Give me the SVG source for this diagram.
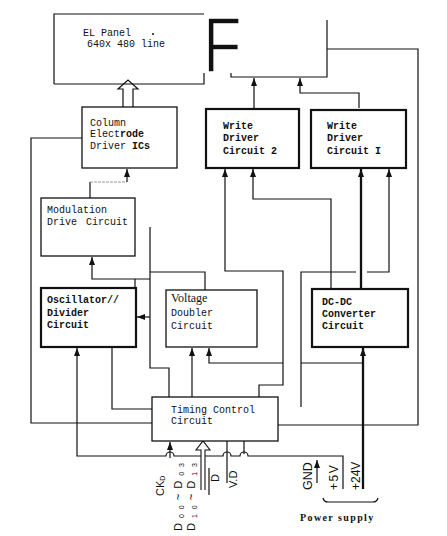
<svg xmlns="http://www.w3.org/2000/svg" width="447" height="536" viewBox="0 0 447 536">
<defs>
<marker id="ah" viewBox="0 0 8 6" refX="8" refY="3" markerWidth="8" markerHeight="6" markerUnits="userSpaceOnUse" orient="auto"><path d="M0,0 L8,3 L0,6 z" fill="#111"/></marker>
</defs>
<style>
.box{fill:#fff;stroke:#111;stroke-width:1.3}
.bbox{fill:#fff;stroke:#111;stroke-width:2.2}
.mono{font-family:"Liberation Mono","DejaVu Sans Mono",monospace;font-size:10px;fill:#111}
.b{font-weight:bold}
.sans{font-family:"Liberation Sans",Arial,sans-serif;fill:#111}
.serif{font-family:"Liberation Serif","Times New Roman",serif;fill:#111}
.ln{fill:none;stroke:#111;stroke-width:1.2}
.th{fill:none;stroke:#111;stroke-width:2.3}
.ar{marker-end:url(#ah)}
</style>
<rect width="447" height="536" fill="#fff"/>

<g id="connectors">
  <path d="M123,108 V89 H118 L128,80 L138,89 H133 V108" fill="#fff" stroke="#111" stroke-width="1.2"/>
  <path class="ln ar" d="M254,108 V78"/>
  <path class="ln ar" d="M359,108 V93 H300 V78"/>
  <path class="ln" d="M231,73 V77 H327 V20"/>
  <path class="ln" d="M327,49 H418 V425 H278"/>
  <path class="ln" d="M82,138 H31 V423 H152"/>
  <path class="ln" d="M90,198 V182"/>
  <path d="M90,182 H127" fill="none" stroke="#999" stroke-width="1" stroke-dasharray="3,1"/>
  <path class="ln ar" d="M127,182 V169"/>
  <path class="ln ar" d="M150,279 H92 V257"/>
  <path class="ln" d="M135,279 V288"/>
  <path class="ln" d="M150,227 V368 H169 V397"/>
  <path class="ln ar" d="M150,317 H137"/>
  <path class="ln" d="M150,272 H205 V290"/>
  <path class="ln" d="M112,347 V409 H152"/>
  <path class="ln ar" d="M343,489 V456 H248 A4,4 0 0 0 240,456 H231 A4,4 0 0 0 223,456 H174 A4,4 0 0 0 166,456 H77 V348"/>
  <path class="ln ar" d="M192,397 V348"/>
  <path class="ln ar" d="M283,363 H209 V348"/>
  <path class="ln ar" d="M259,397 V385 H283 V271 H225 V169"/>
  <path class="ln ar" d="M331,289 V199 H253 V169"/>
  <path class="th ar" d="M361,289 V169"/>
  <path class="th ar" d="M363,489 V348"/>
  <path class="ln" d="M301,407 V272 H356"/>
  <path class="ln ar" d="M367,272 H389 V169"/>
  <path class="ln" d="M301,363 H362"/>
  <path class="ln ar" d="M170,458 V442"/>
  <path d="M201,490 V450 H196 L203,441 L210,450 H205 V490" fill="#fff" stroke="#111" stroke-width="1.1"/>
  <path class="ln" d="M227,441 V483"/>
  <path class="ln" d="M244,441 V454"/>
  <path class="ln" d="M209,468 V495"/>
  <path class="ln ar" d="M317,483 V460"/>
  <path class="ln" d="M323,498 Q324,502 328,502 H373 Q377,502 378,498"/>
</g>

<g id="el-panel">
  <path class="ln" d="M54,84 V14 H204 M54,84 H204 V73"/>
  <text class="mono" x="83" y="35.5">EL Panel</text>
  <circle cx="153" cy="34" r="1" fill="#111"/>
  <text class="mono" x="87" y="46.5">640x 480 line</text>
  <text class="sans" transform="translate(208,72) scale(0.82,1)" x="-6" y="0" font-size="77" stroke="#fff" stroke-width="1.6">F</text>
</g>

<g id="column-electrode">
  <rect class="box" x="82" y="107" width="95" height="61"/>
  <text class="mono" x="90" y="126">Column</text>
  <text class="mono" x="90" y="137">Elect<tspan class="b">rode</tspan></text>
  <text class="mono" x="90" y="149">Driver <tspan class="b">ICs</tspan></text>
</g>

<g id="write-driver-2">
  <rect class="bbox" x="206" y="109" width="93" height="59"/>
  <text class="mono b" x="223" y="129">Write</text>
  <text class="mono b" x="223" y="141">Driver</text>
  <text class="mono b" x="223" y="154">Circuit 2</text>
</g>

<g id="write-driver-1">
  <rect class="bbox" x="311" y="110" width="95" height="58"/>
  <text class="mono b" x="327" y="129">Write</text>
  <text class="mono b" x="327" y="141">Driver</text>
  <text class="mono b" x="327" y="154">Circuit I</text>
</g>

<g id="modulation">
  <rect class="box" x="41" y="198" width="94" height="58"/>
  <text class="mono" x="47" y="213">Modulation</text>
  <text class="mono" x="47" y="225" word-spacing="3">Drive Circuit</text>
</g>

<g id="oscillator">
  <rect class="bbox" x="41" y="288" width="95" height="59"/>
  <text class="mono b" x="47" y="303" font-size="9.5">Oscillator//</text>
  <text class="mono b" x="47" y="316">Divider</text>
  <text class="mono b" x="47" y="328">Circuit</text>
</g>

<g id="voltage-doubler">
  <rect class="box" x="166" y="290" width="91" height="57"/>
  <text class="serif" x="171" y="302" font-size="12">Voltage</text>
  <text class="mono" x="171" y="316">Doubler</text>
  <text class="mono" x="171" y="329">Circuit</text>
</g>

<g id="dc-dc">
  <rect class="bbox" x="312" y="289" width="96" height="58"/>
  <text class="mono b" x="322" y="305">DC-DC</text>
  <text class="mono b" x="322" y="317">Converter</text>
  <text class="mono b" x="322" y="329">Circuit</text>
</g>

<g id="timing-control">
  <rect class="box" x="152" y="397" width="126" height="44"/>
  <text class="mono" x="171" y="413">Timing Control</text>
  <text class="mono" x="171" y="424">Circuit</text>
</g>

<g id="labels">
  <text class="sans" transform="translate(164,496) rotate(-90)" font-size="11">CK<tspan font-size="7" dy="1">D</tspan></text>
  <text class="sans" transform="translate(182,531) rotate(-90)" font-size="11" textLength="68" lengthAdjust="spacing">D<tspan font-size="7" dy="2">00</tspan><tspan dy="-2">~D</tspan><tspan font-size="7" dy="2">03</tspan></text>
  <text class="sans" transform="translate(195,531) rotate(-90)" font-size="11" textLength="68" lengthAdjust="spacing">D<tspan font-size="7" dy="2">10</tspan><tspan dy="-2">~D</tspan><tspan font-size="7" dy="2">13</tspan></text>
  <text class="sans" transform="translate(219,482) rotate(-90)" font-size="11">D</text>
  <text class="sans" transform="translate(237,488) rotate(-90)" font-size="11">V.D</text>
  <text class="sans" transform="translate(312,490) rotate(-90)" font-size="12.5">GND</text>
  <text class="sans" transform="translate(338,490) rotate(-90)" font-size="12" letter-spacing="1.5">+5V</text>
  <text class="sans" transform="translate(360,490) rotate(-90)" font-size="12">+24V</text>
  <text class="serif b" x="300" y="521" font-size="10" letter-spacing="1.4">Power supply</text>
</g>
</svg>
